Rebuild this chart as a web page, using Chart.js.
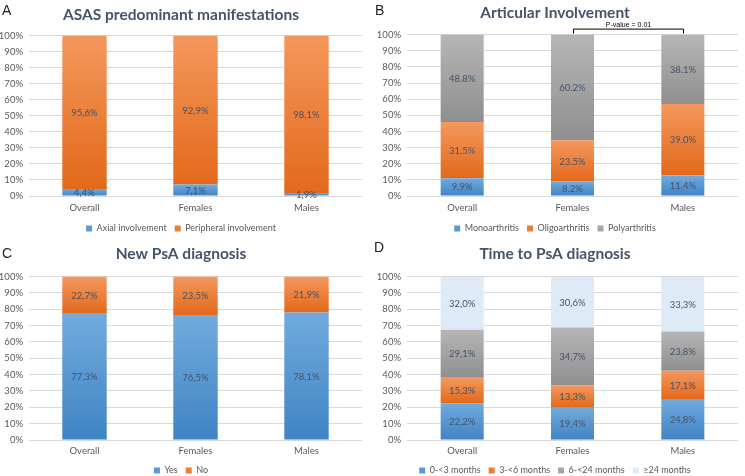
<!DOCTYPE html>
<html><head><meta charset="utf-8">
<script src="https://cdn.jsdelivr.net/npm/chart.js@4.4.1/dist/chart.umd.min.js"></script>
<style>
html,body{margin:0;padding:0;background:#fff}
body{width:745px;height:476px;position:relative;overflow:hidden}
.p{position:absolute}
.p canvas{position:absolute;left:0;top:0}
.lt{position:absolute;font-family:'Liberation Sans',Arial,sans-serif;font-size:14px;color:#222;line-height:1}
</style></head><body>
<div class="p" style="left:0;top:238px;width:372px;height:247px"><canvas id="cC" width="372" height="247"></canvas></div>
<div class="p" style="left:372px;top:238px;width:373px;height:247px"><canvas id="cD" width="373" height="247"></canvas></div>
<div class="p" style="left:0;top:0;width:372px;height:243px"><canvas id="cA" width="372" height="243"></canvas></div>
<div class="p" style="left:372px;top:0;width:373px;height:243px"><canvas id="cB" width="373" height="243"></canvas></div>
<div class="lt" style="left:2px;top:3px">A</div>
<div class="lt" style="left:375px;top:3px">B</div>
<div class="lt" style="left:2px;top:246px">C</div>
<div class="lt" style="left:374px;top:240px">D</div>
<script>
// ---------- data ----------
const categories = ['Overall', 'Females', 'Males'];
const yTicks = [0,10,20,30,40,50,60,70,80,90,100];

const titleA = 'ASAS predominant manifestations';
const seriesA = ['Axial involvement', 'Peripheral involvement'];
const axialA = [4.4, 7.1, 1.9];
const peripheralA = [95.6, 92.9, 98.1];

const titleB = 'Articular Involvement';
const seriesB = ['Monoarthritis', 'Oligoarthritis', 'Polyarthritis'];
const monoB = [9.9, 8.2, 11.4];
const oligoB = [31.5, 23.5, 39.0];
const polyB = [48.8, 60.2, 38.1];
const pValueText = 'P-value = 0.01';

const titleC = 'New PsA diagnosis';
const seriesC = ['Yes', 'No'];
const yesC = [77.3, 76.5, 78.1];
const noC = [22.7, 23.5, 21.9];

const titleD = 'Time to PsA diagnosis';
const seriesD = ['0-<3 months', '3-<6 months', '6-<24 months', '\u226524 months'];
const d0to3 = [22.2, 19.4, 24.8];
const d3to6 = [15.3, 13.3, 17.1];
const d6to24 = [29.1, 34.7, 23.8];
const d24plus = [32.0, 30.6, 33.3];

// ---------- styles ----------
const BLUE = ['#72aadd', '#3f84c4', '#5b9bd5'];
const ORANGE = ['#f4985e', '#e2691a', '#ed7d31'];
const GRAY = ['#b6b6b6', '#8f8f8f', '#a5a5a5'];
const LIGHT = ['#deebf7', '#deebf7', '#deebf7'];
const FONT = "Lato, 'Open Sans', sans-serif";
const TXT = '#595959';
const VALTXT = '#44546a';

function grad(c) {
  return (ctx) => {
    const ch = ctx.chart, ys = ch.scales.y;
    if (!ys || ctx.type !== 'data') return c[2];
    const di = ctx.datasetIndex, i = ctx.dataIndex, ds = ch.data.datasets;
    let s = 0;
    for (let k = 0; k < di; k++) s += ds[k].data[i];
    const e = s + ds[di].data[i];
    const y0 = ys.getPixelForValue(e), y1 = ys.getPixelForValue(s);
    if (!isFinite(y0) || !isFinite(y1) || y0 === y1) return c[2];
    const g = ch.ctx.createLinearGradient(0, y0, 0, y1);
    g.addColorStop(0, c[0]); g.addColorStop(1, c[1]);
    return g;
  };
}

function normalize(sets) {
  return sets.map(s => s.map((v, i) => v / sets.reduce((a, t) => a + t[i], 0) * 100));
}

const valuePlugin = {
  id: 'vals',
  afterDatasetsDraw(chart) {
    const ctx = chart.ctx;
    chart.data.datasets.forEach((ds, di) => {
      const meta = chart.getDatasetMeta(di);
      meta.data.forEach((bar, i) => {
        ctx.save();
        ctx.fillStyle = VALTXT;
        ctx.font = '9.5px ' + FONT;
        ctx.textAlign = 'center';
        ctx.textBaseline = 'middle';
        ctx.fillText(ds.valueLabels[i], bar.x, (bar.y + bar.base) / 2 + 0.5);
        ctx.restore();
      });
    });
  }
};

const bracketPlugin = {
  id: 'bracket',
  afterDraw(chart, args, opts) {
    if (!opts || !opts.text) return;
    const x = chart.scales.x, ctx = chart.ctx;
    const x1 = Math.round(x.getPixelForValue(opts.from)) + 0.5;
    const x2 = Math.round(x.getPixelForValue(opts.to)) + 0.5;
    const top = chart.chartArea.top - 5.5, bot = chart.chartArea.top - 1;
    ctx.save();
    ctx.strokeStyle = '#000'; ctx.lineWidth = 1;
    ctx.beginPath();
    ctx.moveTo(x1, bot); ctx.lineTo(x1, top); ctx.lineTo(x2, top); ctx.lineTo(x2, bot);
    ctx.stroke();
    ctx.fillStyle = '#000';
    ctx.font = "7px 'Liberation Sans', Arial, sans-serif";
    ctx.textAlign = 'center'; ctx.textBaseline = 'middle';
    ctx.fillText(opts.text, (x1 + x2) / 2, top - 4);
    ctx.restore();
  }
};

function make(id, cfg) {
  const raw = cfg.series;
  const data = normalize(raw);
  const comma = cfg.comma;
  const datasets = raw.map((vals, k) => ({
    label: cfg.names[k],
    data: data[k],
    valueLabels: vals.map(v => (comma ? v.toFixed(1).replace('.', ',') : v.toFixed(1)) + '%'),
    backgroundColor: grad(cfg.colors[k]),
    legendColor: cfg.colors[k][2],
    borderWidth: 0,
    barPercentage: cfg.barPct,
    categoryPercentage: 1
  }));
  return new Chart(document.getElementById(id), {
    type: 'bar',
    data: { labels: categories, datasets },
    plugins: [valuePlugin, bracketPlugin],
    options: {
      responsive: false,
      animation: false,
      devicePixelRatio: 1,
      layout: { padding: { left: 0, right: cfg.right, top: 0, bottom: 0 } },
      scales: {
        x: {
          stacked: true,
          grid: { display: false, drawTicks: false },
          border: { display: false },
          ticks: { color: TXT, font: { family: FONT, size: 9.5 }, padding: cfg.xPad },
          afterFit: s => { s.height = cfg.xH; }
        },
        y: {
          stacked: true,
          min: 0, max: 100,
          afterBuildTicks: s => { s.ticks = yTicks.map(v => ({ value: v })); },
          grid: { color: '#d9d9d9', drawTicks: false },
          border: { display: false },
          ticks: { color: TXT, font: { family: FONT, size: 9.5 }, padding: 6, callback: v => v + '%' },
          afterFit: s => { s.width = cfg.yW; }
        }
      },
      plugins: {
        title: {
          display: true, text: cfg.title, color: '#44546a',
          font: { family: FONT, size: 15.5, weight: 'bold' },
          padding: { top: cfg.tTop, bottom: cfg.tBot }
        },
        legend: {
          position: 'bottom',
          labels: {
            boxWidth: 6, boxHeight: 6, padding: 8, color: TXT,
            font: { family: FONT, size: 9 },
            generateLabels: ch => ch.data.datasets.map((ds, i) => ({
              text: ds.label, fillStyle: ds.legendColor, strokeStyle: ds.legendColor,
              lineWidth: 0, hidden: false, datasetIndex: i, fontColor: TXT
            }))
          }
        },
        tooltip: { enabled: false },
        bracket: cfg.bracket || {}
      }
    }
  });
}

make('cA', { title: titleA, names: seriesA, series: [axialA, peripheralA], colors: [BLUE, ORANGE],
  comma: true, barPct: 0.4, right: 10, yW: 29, xH: 20, xPad: 6, tTop: 6, tBot: 11 });
make('cB', { title: titleB, names: seriesB, series: [monoB, oligoB, polyB], colors: [BLUE, ORANGE, GRAY],
  comma: false, barPct: 0.39, right: 7, yW: 35, xH: 20, xPad: 6, tTop: 4, tBot: 12,
  bracket: { from: 1, to: 2, text: pValueText } });
make('cC', { title: titleC, names: seriesC, series: [yesC, noC], colors: [BLUE, ORANGE],
  comma: true, barPct: 0.4, right: 10, yW: 29, xH: 18, xPad: 5, tTop: 7, tBot: 13 });
make('cD', { title: titleD, names: seriesD, series: [d0to3, d3to6, d6to24, d24plus], colors: [BLUE, ORANGE, GRAY, LIGHT],
  comma: true, barPct: 0.39, right: 7, yW: 35, xH: 18, xPad: 5, tTop: 7, tBot: 13 });
</script>
</body></html>
